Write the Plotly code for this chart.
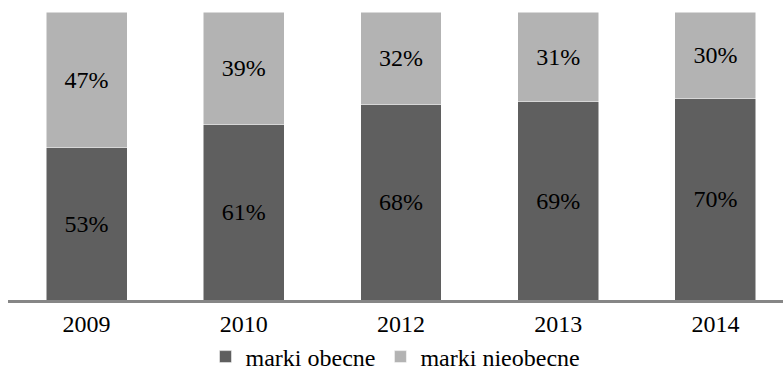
import plotly.graph_objects as go

years = ["2009", "2010", "2012", "2013", "2014"]
obecne = [53, 61, 68, 69, 70]
nieobecne = [47, 39, 32, 31, 30]

dark = "#5f5f5f"
light = "#b3b3b3"
font_family = "Liberation Serif, Times New Roman, serif"
fs = 24

fig = go.Figure()
fig.add_trace(go.Bar(
    x=years, y=obecne, name="marki obecne",
    marker=dict(color=dark, line=dict(color="#ffffff", width=0.5)),
    text=[f"{v}%" for v in obecne], textposition="inside",
    insidetextanchor="middle",
    textfont=dict(family=font_family, size=fs, color="#000000"),
    width=0.515,
))
fig.add_trace(go.Bar(
    x=years, y=nieobecne, name="marki nieobecne",
    marker=dict(color=light, line=dict(color="#ffffff", width=0.5)),
    text=[f"{v}%" for v in nieobecne], textposition="inside",
    insidetextanchor="middle",
    textfont=dict(family=font_family, size=fs, color="#000000"),
    width=0.515,
))

fig.update_layout(
    width=783, height=391,
    barmode="stack",
    margin=dict(l=8, r=0, t=12, b=91),
    paper_bgcolor="#ffffff", plot_bgcolor="#ffffff",
    font=dict(family=font_family, size=fs, color="#000000"),
    uniformtext=dict(minsize=fs, mode="show"),
    showlegend=True,
    legend=dict(
        orientation="h", x=0.50, xanchor="center", y=-0.198, yanchor="middle",
        traceorder="normal",
        font=dict(family=font_family, size=fs, color="#000000"),
        itemwidth=30, tracegroupgap=0,
    ),
    xaxis=dict(
        type="category", range=[-0.5, 4.43],
        showline=True, linecolor="#868686", linewidth=3,
        showgrid=False, ticks="", zeroline=False,
        tickfont=dict(family=font_family, size=fs),
    ),
    yaxis=dict(range=[0, 100], visible=False, showgrid=False, zeroline=False),
)

fig.write_html("out.html")
